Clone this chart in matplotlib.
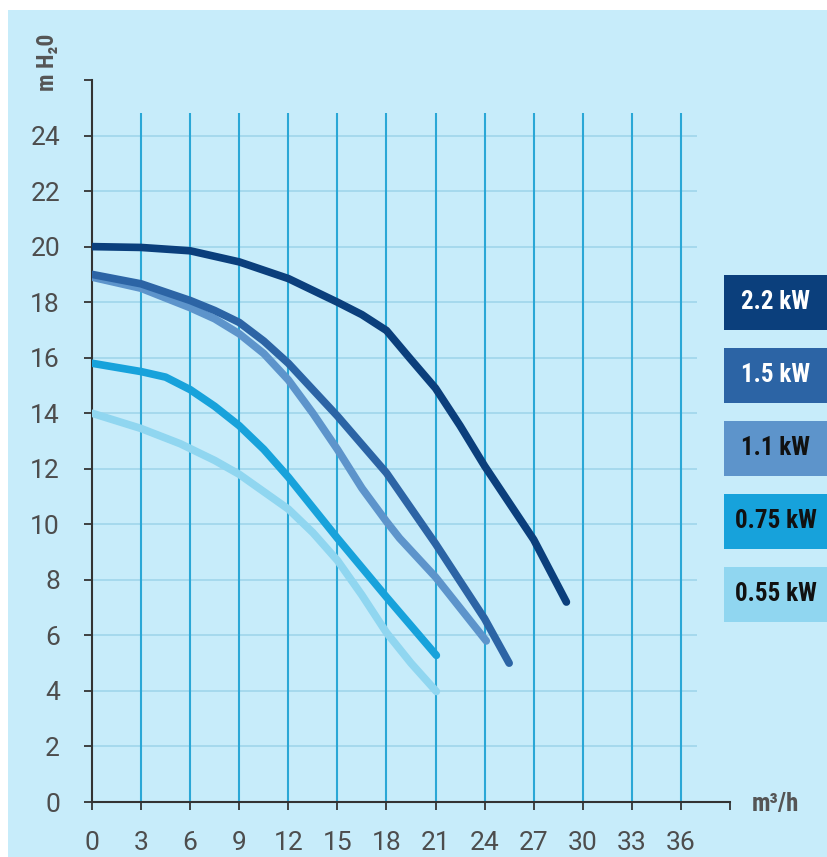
import matplotlib.pyplot as plt
from matplotlib.patches import Rectangle

# pump curves: flow (m3/h) vs head (m H2O)
labels = ["2.2 kW", "1.5 kW", "1.1 kW", "0.75 kW", "0.55 kW"]

q_22 = [0, 3, 6, 9, 12, 15, 16.5, 18, 19.4, 21, 22.5, 24, 27, 29.0]
h_22 = [20.0, 19.97, 19.85, 19.45, 18.85, 18.0, 17.55, 16.98, 16.0, 14.9, 13.55, 12.1, 9.45, 7.2]

q_15 = [0, 3, 6, 7.5, 9, 10.5, 12, 15, 18, 21, 24, 25.5]
h_15 = [19.0, 18.66, 18.06, 17.7, 17.27, 16.6, 15.8, 13.9, 11.85, 9.3, 6.6, 5.0]

q_11 = [0, 3, 6, 7.5, 9, 10.5, 12, 13.5, 15, 16.5, 18, 18.8, 21, 24.1]
h_11 = [18.9, 18.5, 17.8, 17.4, 16.86, 16.15, 15.2, 14.0, 12.7, 11.3, 10.1, 9.5, 8.1, 5.8]

q_075 = [0, 3, 4.5, 6, 7.5, 9, 10.5, 12, 15, 18, 21.05]
h_075 = [15.8, 15.5, 15.3, 14.85, 14.25, 13.55, 12.7, 11.7, 9.5, 7.38, 5.28]

q_055 = [0, 3, 5.4, 7.5, 9, 12, 13.5, 15, 16.5, 18, 19.5, 21.05]
h_055 = [14.0, 13.45, 12.9, 12.3, 11.8, 10.55, 9.7, 8.7, 7.45, 6.1, 5.0, 3.98]

colors = ["#0b3f7c", "#2c64a5", "#5d94cb", "#17a2db", "#90d6f0"]
text_colors = ["white", "white", "#111111", "#111111", "#111111"]

x_ticks = list(range(0, 40, 3))
x_labels = [str(v) for v in range(0, 37, 3)] + [""]
y_ticks = list(range(0, 27, 2))
y_labels = [str(v) for v in range(0, 25, 2)] + [""]

tick_font = ["Roboto", "DejaVu Sans"]
cond_font = ["Roboto Condensed", "DejaVu Sans"]

fig = plt.figure(figsize=(8.28, 8.57), dpi=100)
fig.patch.set_facecolor("white")
fig.patches.append(Rectangle((8 / 828, 0), 1, 1 - 10 / 857, transform=fig.transFigure,
                             facecolor="#c7ecfa", edgecolor="none", zorder=-10))

ax = fig.add_axes([92 / 828, 55 / 857, (730 - 92) / 828, (802 - 80) / 857])
ax.set_facecolor("none")
ax.set_xlim(0, 39)
ax.set_ylim(0, 26)

ax.vlines(x_ticks[1:-1], 0, 24.8, color="#2aa7d6", lw=1.5, zorder=1)
ax.hlines(y_ticks[1:-1], 0, 37, color="#a3d8ec", lw=1.3, zorder=0)

curves = list(zip([q_22, q_15, q_11, q_075, q_055], [h_22, h_15, h_11, h_075, h_055]))
for i in range(len(curves) - 1, -1, -1):
    q, h = curves[i]
    ax.plot(q, h, color=colors[i], lw=5.5, solid_capstyle="round",
            solid_joinstyle="round", zorder=3)

for s in ["top", "right"]:
    ax.spines[s].set_visible(False)
for s in ["left", "bottom"]:
    ax.spines[s].set_color("#333333")
    ax.spines[s].set_linewidth(1.5)

ax.set_xticks(x_ticks)
ax.set_xticklabels(x_labels)
ax.set_yticks(y_ticks)
ax.set_yticklabels(y_labels)
ax.tick_params(length=6, width=1.3, color="#333333", labelcolor="#4d4d4d",
               labelsize=19)
ax.tick_params(axis="y", pad=17)
ax.tick_params(axis="x", pad=15)
for t in ax.get_xticklabels() + ax.get_yticklabels():
    t.set_family(tick_font)

fig.text(752 / 828, 1 - 804 / 857, "m³/h", family=cond_font, fontsize=18,
         fontweight="bold", color="#555555", ha="left", va="center")
fig.text(48 / 828, 1 - 62 / 857, "m H₂0", family=cond_font, fontsize=17,
         fontweight="bold", color="#555555", rotation=90, ha="center", va="center")

# legend boxes on the right
for i, lab in enumerate(labels):
    top = 275 + i * 73
    fig.patches.append(Rectangle((724 / 828, 1 - (top + 55) / 857), 104 / 828, 55 / 857,
                                 transform=fig.transFigure, facecolor=colors[i],
                                 edgecolor="none", zorder=5))
    fig.text(776 / 828, 1 - (top + 27) / 857, lab, family=cond_font,
             fontsize=18, fontweight="bold", color=text_colors[i],
             ha="center", va="center", zorder=6)

fig.savefig("out.png", dpi=100)
